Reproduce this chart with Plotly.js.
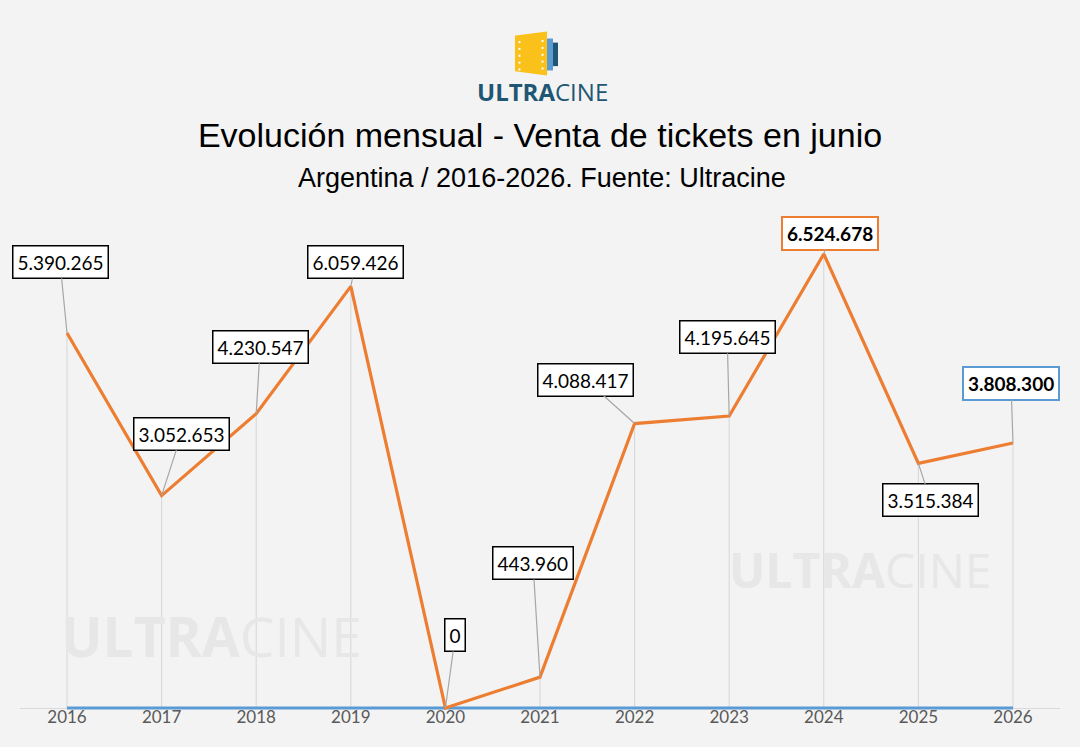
<!DOCTYPE html>
<html>
<head>
<meta charset="utf-8">
<script src="https://cdn.plot.ly/plotly-3.0.1.min.js"></script>
<style>
  html, body { margin: 0; padding: 0; background: #f3f3f3; }
  #chart { width: 1080px; height: 747px; }
</style>
</head>
<body>
<div id="chart"></div>
<script>
// data
var years = [2016, 2017, 2018, 2019, 2020, 2021, 2022, 2023, 2024, 2025, 2026];
var tickets = [5390265, 3052653, 4230547, 6059426, 0, 443960, 4088417, 4195645, 6524678, 3515384, 3808300];
var labels = ['5.390.265', '3.052.653', '4.230.547', '6.059.426', '0', '443.960',
              '4.088.417', '4.195.645', '6.524.678', '3.515.384', '3.808.300'];
// where each label box sits relative to its point (px)
var labelDx = [-7, 20, 4, 5, 10, -7, -49, -2, 6, 12, -2];
var labelDy = [-71, -62, -67, -24, -73, -114, -44, -79, -21, 37, -60];
var labelBorder = ['#000', '#000', '#000', '#000', '#000', '#000', '#000', '#000', '#ed7d31', '#000', '#5b9bd5'];
var labelBold = [false, false, false, false, false, false, false, false, true, false, true];

var zeros = years.map(function () { return 0; });

var dropLines = {
  x: years,
  y: tickets,
  type: 'scatter',
  mode: 'markers',
  marker: {size: 1, color: 'rgba(0,0,0,0)'},
  error_y: {
    type: 'data',
    symmetric: false,
    array: zeros,
    arrayminus: tickets,
    width: 0,
    thickness: 1,
    color: '#d6d6d6'
  },
  hoverinfo: 'skip'
};

var baseline = {
  x: years,
  y: zeros,
  type: 'scatter',
  mode: 'lines',
  line: {color: '#5b9bd5', width: 3},
  hoverinfo: 'skip'
};

var trace1 = {
  x: years,
  y: tickets,
  type: 'scatter',
  mode: 'lines',
  line: {color: '#ed7d31', width: 3.2},
  cliponaxis: false
};

var annotations = years.map(function (yr, i) {
  return {
    x: yr,
    y: tickets[i],
    text: labelBold[i] ? '<b>' + labels[i] + '</b>' : labels[i],
    showarrow: true,
    arrowhead: 0,
    arrowwidth: 1.2,
    arrowcolor: '#a6a6a6',
    ax: labelDx[i],
    ay: labelDy[i],
    standoff: 0,
    bgcolor: '#ffffff',
    bordercolor: labelBorder[i],
    borderwidth: labelBold[i] ? 2 : 1.5,
    borderpad: 4,
    font: {family: 'Lato', size: 19, color: '#000000'}
  };
});

function paperText(x, y, text, font) {
  return {xref: 'paper', yref: 'paper', x: x, y: y, xanchor: 'center', yanchor: 'middle',
          text: text, showarrow: false, font: font};
}

// watermarks (drawn first so labels sit above them)
annotations.unshift(paperText(0.184, 0.147, '<b>ULTRA</b>CINE',
  {family: 'Open Sans', size: 55, color: '#e7e7e7'}));
annotations.unshift(paperText(0.808, 0.276, '<b>ULTRA</b>CINE',
  {family: 'Open Sans', size: 48, color: '#e7e7e7'}));
// subtitle
annotations.push(paperText(0.502, 1.043, 'Argentina / 2016-2026. Fuente: Ultracine',
  {family: 'Liberation Sans', size: 27, color: '#000000'}));
// logo text
annotations.push(paperText(0.502, 1.212, '<b>ULTRA</b>CINE',
  {family: 'Open Sans', size: 24, color: '#1f5673'}));

// logo icon
var shapes = [
  {type: 'path', xref: 'paper', yref: 'paper', layer: 'above',
   path: 'M 0.5058 1.3160 L 0.5125 1.3160 L 0.5125 1.2535 L 0.5058 1.2535 Z',
   fillcolor: '#5b9bd5', line: {width: 0}},
  {type: 'path', xref: 'paper', yref: 'paper', layer: 'above',
   path: 'M 0.5125 1.308 L 0.5173 1.308 L 0.5173 1.262 L 0.5125 1.262 Z',
   fillcolor: '#1f5673', line: {width: 0}},
  {type: 'path', xref: 'paper', yref: 'paper', layer: 'above',
   path: 'M 0.4769 1.3200 L 0.5058 1.3277 L 0.5058 1.2457 L 0.4769 1.2535 Z',
   fillcolor: '#f9c11a', line: {color: '#f9c11a', width: 2}}
];
for (var k = 0; k < 5; k++) {
  var yy = 1.311 - k * 0.0134;
  shapes.push({type: 'rect', xref: 'paper', yref: 'paper', layer: 'above',
    x0: 0.4793, x1: 0.4812, y0: yy - 0.004, y1: yy,
    fillcolor: '#ffffff', line: {width: 0}});
  shapes.push({type: 'rect', xref: 'paper', yref: 'paper', layer: 'above',
    x0: 0.5015, x1: 0.5034, y0: yy - 0.002, y1: yy + 0.002,
    fillcolor: '#ffffff', line: {width: 0}});
}

var data = [dropLines, baseline, trace1];
var layout = {
  width: 1080,
  height: 747,
  margin: {l: 20, r: 20, t: 200, b: 36},
  paper_bgcolor: '#f3f3f3',
  plot_bgcolor: '#f3f3f3',
  showlegend: false,
  title: {
    text: 'Evolución mensual - Venta de tickets en junio',
    x: 0.5,
    xanchor: 'center',
    y: 0.819,
    yanchor: 'middle',
    font: {family: 'Liberation Sans', size: 34, color: '#000000'}
  },
  xaxis: {
    range: [2015.503, 2026.497],
    tickvals: years,
    ticktext: years.map(String),
    showgrid: false,
    zeroline: false,
    showline: false,
    ticks: '',
    ticklabelstandoff: -6,
    tickfont: {family: 'Lato', size: 17, color: '#595959'}
  },
  yaxis: {
    range: [-43000, 7301000],
    showgrid: false,
    zeroline: true,
    zerolinecolor: '#d9d9d9',
    zerolinewidth: 1,
    showticklabels: false,
    showline: false
  },
  annotations: annotations,
  shapes: shapes
};
Plotly.newPlot('chart', data, layout, {displayModeBar: false, staticPlot: true});
</script>
</body>
</html>
